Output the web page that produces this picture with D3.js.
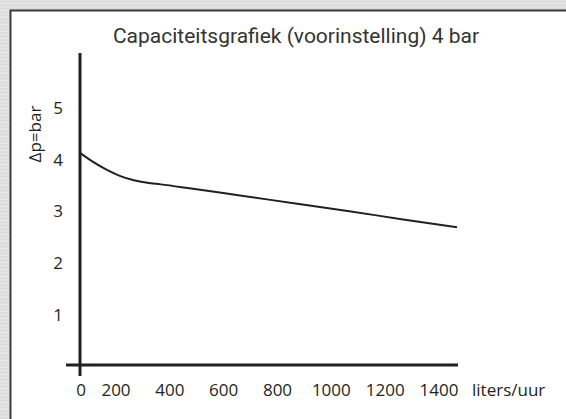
<!DOCTYPE html>
<html>
<head>
  <meta charset="utf-8">
  <title>Capaciteitsgrafiek</title>
  <style>
    body {
      margin: 0;
      padding: 0;
      width: 566px;
      height: 419px;
      overflow: hidden;
      background: repeating-linear-gradient(180deg, #e4e4e4 0px, #d6d6d6 2px, #ececec 3px, #dadada 5px, #e6e6e6 7px);
    }
    svg { display: block; }
    .title { font-family: Roboto, sans-serif; font-size: 21px; fill: #333; }
    .lbl { font-family: "Open Sans", sans-serif; font-size: 17px; fill: #231f20; }
  </style>
</head>
<body>
  <div id="chart"></div>
  <script src="https://cdnjs.cloudflare.com/ajax/libs/d3/7.8.5/d3.min.js"></script>
  <script>
    // chart data
    var flow = [0, 50, 100, 150, 200, 250, 300, 400, 600, 800, 1000, 1200, 1400];
    var pressure = [4.13, 3.95, 3.80, 3.68, 3.60, 3.55, 3.52, 3.45, 3.30, 3.15, 3.00, 2.84, 2.69];
    var xTicks = [0, 200, 400, 600, 800, 1000, 1200, 1400];
    var yTicks = [1, 2, 3, 4, 5];

    var width = 566,
      height = 419;

    var svg = d3.select("#chart")
      .append("svg")
      .attr("width", width)
      .attr("height", height);

    // white panel with dark edge
    svg.append("rect")
      .attr("x", 10.5)
      .attr("y", 10.5)
      .attr("width", 600)
      .attr("height", 450)
      .attr("fill", "#fff")
      .attr("stroke", "#3a3a3a")
      .attr("stroke-width", 2);

    // scales
    var x = d3.scaleLinear().domain([0, 1400]).range([80, 457]);
    var y = d3.scaleLinear().domain([0, 5]).range([366, 108]);
    // tick labels are spaced by hand in the original, 0 sits on the axis
    var xLab = d3.scaleLinear().domain([200, 1400]).range([116, 439]);

    // axes lines
    svg.append("line")
      .attr("x1", x(0)).attr("x2", x(0))
      .attr("y1", 53).attr("y2", y(0) + 10)
      .attr("stroke", "#231f20").attr("stroke-width", 3);
    svg.append("line")
      .attr("x1", x(0) - 14).attr("x2", x(1400) + 1)
      .attr("y1", y(0) - 1).attr("y2", y(0) - 1)
      .attr("stroke", "#231f20").attr("stroke-width", 3);

    // x tick labels
    svg.selectAll(".xl")
      .data(xTicks)
      .enter()
      .append("text")
      .attr("class", "lbl")
      .attr("x", function(d) { return d === 0 ? x(0) + 1 : xLab(d); })
      .attr("y", 396)
      .attr("text-anchor", "middle")
      .text(function(d) { return d; });

    svg.append("text")
      .attr("class", "lbl")
      .attr("x", 472)
      .attr("y", 396)
      .text("liters/uur");

    // y tick labels
    svg.selectAll(".yl")
      .data(yTicks)
      .enter()
      .append("text")
      .attr("class", "lbl")
      .attr("x", 58)
      .attr("y", function(d) { return y(d); })
      .attr("dy", "0.36em")
      .attr("text-anchor", "middle")
      .text(function(d) { return d; });

    svg.append("text")
      .attr("class", "lbl")
      .attr("transform", "translate(41,134) rotate(-90)")
      .attr("text-anchor", "middle")
      .text("Δp=bar");

    // capacity curve
    var line = d3.line()
      .x(function(d, i) { return x(flow[i]); })
      .y(function(d) { return y(d); })
      .curve(d3.curveMonotoneX);

    svg.append("path")
      .datum(pressure)
      .attr("d", line)
      .attr("fill", "none")
      .attr("stroke", "#231f20")
      .attr("stroke-width", 2);

    // title
    svg.append("text")
      .attr("class", "title")
      .attr("x", 296)
      .attr("y", 43)
      .attr("text-anchor", "middle")
      .text("Capaciteitsgrafiek (voorinstelling) 4 bar");
  </script>
</body>
</html>
